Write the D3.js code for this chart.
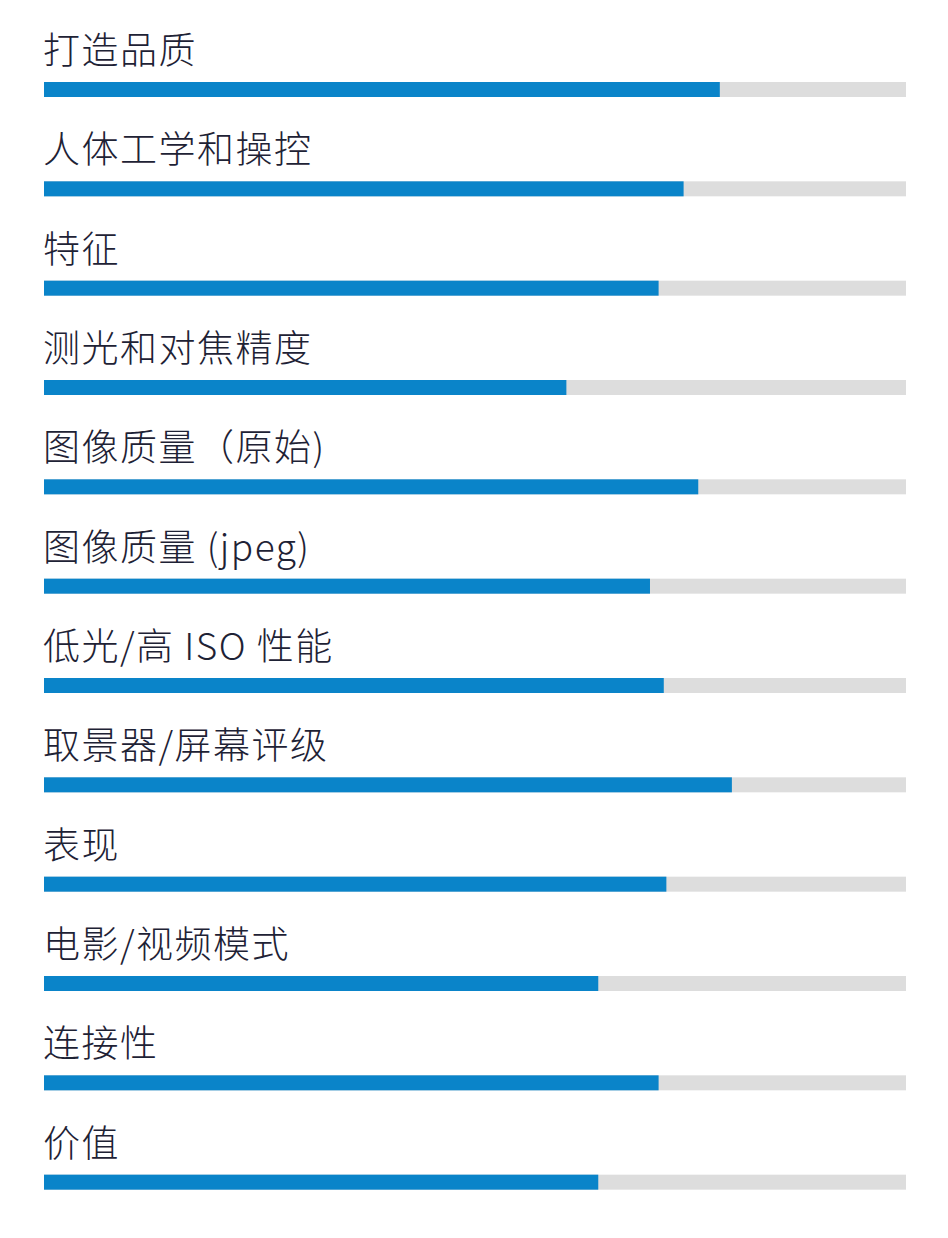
<!DOCTYPE html>
<html><head><meta charset="utf-8">
<script src="https://cdn.jsdelivr.net/npm/d3@7"></script>
<style>body{margin:0;background:#fff}</style></head>
<body><svg id="c" width="948" height="1238"></svg>
<script>
const categories = ["打造品质","人体工学和操控","特征","测光和对焦精度","图像质量（原始)","图像质量 (jpeg)","低光/高 ISO 性能","取景器/屏幕评级","表现","电影/视频模式","连接性","价值"];
const scores = [78.4,74.2,71.3,60.6,75.9,70.3,71.9,79.8,72.2,64.3,71.3,64.3];
const maxScore = 100;

const svg = d3.select("#c");
const x = d3.scaleLinear().domain([0, maxScore]).range([44, 906]);
const y = d3.scaleBand().domain(categories).range([18, 1210]);

const g = svg.selectAll("g.row").data(categories).join("g").attr("class","row")
  .attr("transform", d => `translate(0,${y(d)})`);
g.append("text").attr("x", 43).attr("y", 46)
  .attr("font-family", "'Noto Sans CJK SC','Open Sans',sans-serif")
  .attr("font-weight", 300).attr("letter-spacing", 1.5)
  .attr("font-size", 37).attr("fill", "#1e2235").text(d => d);
g.append("rect").attr("x", x(0)).attr("y", 64).attr("height", 15)
  .attr("width", x(maxScore) - x(0)).attr("fill", "#dddddd");
g.append("rect").attr("x", x(0)).attr("y", 64).attr("height", 15)
  .attr("width", (d,i) => x(scores[i]) - x(0)).attr("fill", "#0a84c9");
</script></body></html>
